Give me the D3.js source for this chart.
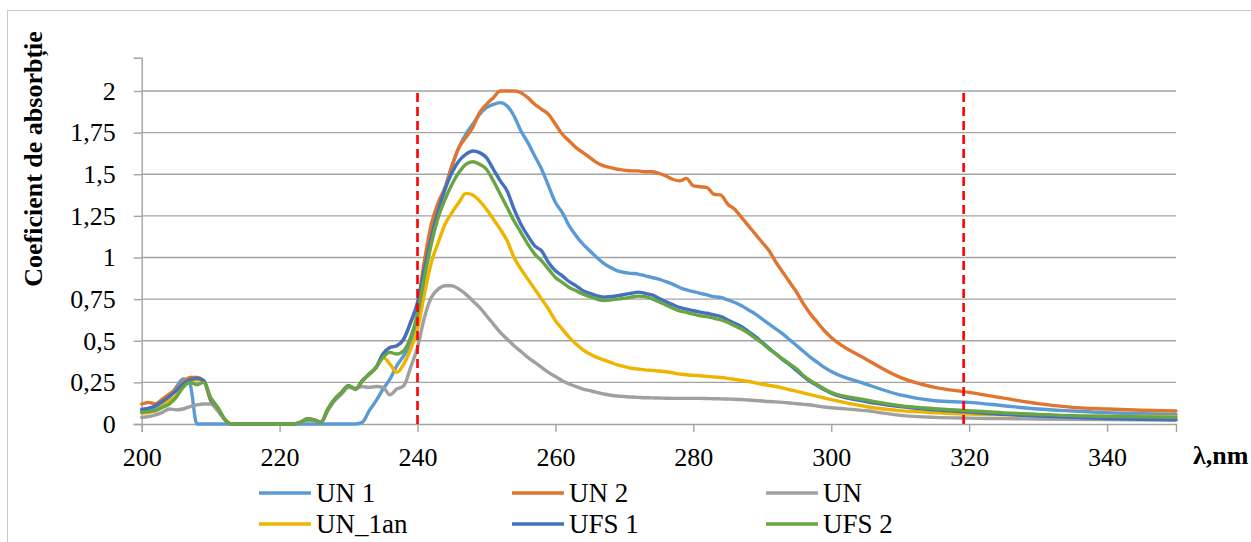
<!DOCTYPE html>
<html>
<head>
<meta charset="utf-8">
<script src="https://cdn.jsdelivr.net/npm/d3@7/dist/d3.min.js"></script>
<style>
  body { margin: 0; background: #fff; }
</style>
</head>
<body>
<script>
// wavelength grid (nm)
const wavelength = [
  200,201,202,203,204,205,206,207,208,209,
  210,211,212,213,214,215,216,217,218,219,
  220,221,222,223,224,225,226,227,228,229,
  230,231,232,233,234,235,236,237,238,239,
  240,241,242,243,244,245,246,247,248,249,
  250,251,252,253,254,255,256,257,258,259,
  260,261,262,263,264,265,266,267,268,269,
  270,271,272,273,274,275,276,277,278,279,
  280,281,282,283,284,285,286,287,288,289,
  290,291,292,293,294,295,296,297,298,299,
  300,305,310,315,320,325,330,335,340,345,350
];

const un1 = [
  0.09,0.09,0.10,0.13,0.16,0.22,0.27,0.24,0,0,
  0,0,0,0,0,0,0,0,0,0,
  0,0,0,0,0,0,0,0,0,0,
  0,0,0.01,0.08,0.14,0.21,0.27,0.35,0.41,0.48,
  0.60,0.90,1.15,1.30,1.42,1.55,1.66,1.74,1.80,1.86,
  1.90,1.92,1.93,1.91,1.85,1.76,1.69,1.61,1.53,1.43,
  1.33,1.27,1.19,1.13,1.08,1.04,1.00,0.965,0.94,0.92,
  0.91,0.905,0.90,0.89,0.88,0.87,0.855,0.84,0.82,0.805,
  0.795,0.785,0.775,0.765,0.76,0.745,0.73,0.71,0.685,0.66,
  0.63,0.60,0.57,0.54,0.505,0.47,0.435,0.40,0.37,0.34,
  0.315,0.24,0.175,0.14,0.13,0.11,0.09,0.078,0.068,0.062,0.058
];

const un2 = [
  0.12,0.13,0.12,0.15,0.18,0.21,0.25,0.28,0.28,0.26,
  0.14,0.09,0.03,0,0,0,0,0,0,0,
  0,0,0,0.01,0.03,0.025,0.01,0.09,0.15,0.19,
  0.23,0.21,0.26,0.30,0.34,0.42,0.46,0.47,0.51,0.61,
  0.72,0.98,1.20,1.33,1.42,1.55,1.66,1.72,1.78,1.87,
  1.92,1.96,2.00,2.00,2.00,1.99,1.96,1.92,1.89,1.86,
  1.80,1.74,1.70,1.66,1.63,1.60,1.57,1.55,1.54,1.53,
  1.525,1.52,1.52,1.515,1.515,1.505,1.49,1.47,1.46,1.475,
  1.43,1.425,1.42,1.38,1.375,1.32,1.29,1.24,1.19,1.14,
  1.09,1.04,0.97,0.91,0.85,0.79,0.72,0.66,0.61,0.56,
  0.52,0.39,0.28,0.22,0.19,0.155,0.122,0.10,0.09,0.083,0.078
];

const un = [
  0.04,0.045,0.055,0.07,0.09,0.085,0.09,0.105,0.115,0.12,
  0.12,0.08,0.03,0,0,0,0,0,0,0,
  0,0,0,0.01,0.02,0.02,0.01,0.08,0.14,0.18,
  0.22,0.215,0.225,0.22,0.225,0.22,0.175,0.21,0.23,0.34,
  0.46,0.64,0.76,0.81,0.83,0.83,0.81,0.78,0.74,0.70,
  0.65,0.60,0.55,0.51,0.47,0.435,0.40,0.37,0.34,0.31,
  0.285,0.26,0.24,0.225,0.21,0.20,0.19,0.18,0.173,0.168,
  0.165,0.162,0.16,0.158,0.157,0.156,0.155,0.154,0.154,0.154,
  0.154,0.154,0.153,0.152,0.151,0.15,0.149,0.147,0.144,0.141,
  0.138,0.135,0.133,0.13,0.126,0.122,0.118,0.114,0.108,0.102,
  0.098,0.08,0.052,0.04,0.035,0.032,0.03,0.028,0.026,0.025,0.024
];

const un1an = [
  0.065,0.07,0.08,0.11,0.14,0.17,0.22,0.255,0.265,0.26,
  0.15,0.10,0.03,0,0,0,0,0,0,0,
  0,0,0,0.01,0.03,0.025,0.01,0.09,0.15,0.19,
  0.23,0.21,0.26,0.30,0.34,0.40,0.36,0.31,0.36,0.45,
  0.57,0.78,0.97,1.09,1.20,1.27,1.33,1.385,1.375,1.34,
  1.29,1.23,1.17,1.10,1.00,0.93,0.87,0.81,0.75,0.69,
  0.62,0.57,0.52,0.48,0.445,0.42,0.40,0.385,0.37,0.355,
  0.345,0.335,0.33,0.325,0.322,0.318,0.314,0.308,0.30,0.296,
  0.292,0.29,0.286,0.282,0.279,0.274,0.268,0.262,0.255,0.247,
  0.239,0.232,0.225,0.216,0.205,0.196,0.186,0.176,0.166,0.156,
  0.146,0.105,0.08,0.068,0.06,0.055,0.05,0.048,0.046,0.045,0.044
];

const ufs1 = [
  0.085,0.095,0.11,0.135,0.165,0.20,0.24,0.265,0.275,0.26,
  0.15,0.10,0.03,0,0,0,0,0,0,0,
  0,0,0,0.01,0.03,0.025,0.01,0.09,0.15,0.19,
  0.23,0.21,0.26,0.30,0.34,0.42,0.46,0.47,0.51,0.61,
  0.73,0.93,1.12,1.28,1.41,1.51,1.58,1.62,1.64,1.63,
  1.60,1.53,1.46,1.40,1.29,1.20,1.13,1.07,1.04,0.97,
  0.92,0.89,0.855,0.83,0.80,0.785,0.77,0.762,0.765,0.77,
  0.778,0.785,0.792,0.785,0.775,0.755,0.735,0.717,0.70,0.69,
  0.68,0.672,0.665,0.655,0.645,0.625,0.605,0.585,0.555,0.525,
  0.49,0.455,0.42,0.385,0.355,0.32,0.285,0.255,0.23,0.205,
  0.185,0.135,0.105,0.085,0.072,0.058,0.048,0.04,0.033,0.028,0.025
];

const ufs2 = [
  0.07,0.075,0.08,0.10,0.12,0.16,0.22,0.25,0.235,0.25,
  0.16,0.10,0.03,0,0,0,0,0,0,0,
  0,0,0,0.01,0.03,0.025,0.01,0.09,0.15,0.19,
  0.23,0.21,0.26,0.30,0.34,0.40,0.43,0.42,0.44,0.52,
  0.66,0.88,1.08,1.24,1.35,1.44,1.51,1.56,1.575,1.56,
  1.53,1.46,1.38,1.30,1.22,1.15,1.08,1.02,0.98,0.93,
  0.88,0.85,0.82,0.80,0.78,0.765,0.75,0.742,0.745,0.75,
  0.755,0.762,0.768,0.765,0.752,0.735,0.715,0.695,0.68,0.67,
  0.66,0.65,0.645,0.635,0.625,0.61,0.59,0.57,0.545,0.515,
  0.485,0.45,0.42,0.39,0.36,0.33,0.29,0.26,0.235,0.21,
  0.19,0.145,0.11,0.092,0.08,0.067,0.058,0.05,0.046,0.043,0.04
];

const seriesNames  = ["UN 1", "UN 2", "UN", "UN_1an", "UFS 1", "UFS 2"];
const seriesValues = [un1, un2, un, un1an, ufs1, ufs2];
const seriesColors = ["#5b9bd5", "#e0752f", "#a0a0a0", "#eeb400", "#4470c0", "#68a643"];

const xTicks = [200, 220, 240, 260, 280, 300, 320, 340];
const yTicks = [0, 0.25, 0.5, 0.75, 1, 1.25, 1.5, 1.75, 2];
const yTickLabels = ["0", "0,25", "0,5", "0,75", "1", "1,25", "1,5", "1,75", "2"];
const markerLines = [240, 319.2];   // red dashed limits

const FONT = '"Liberation Serif", "Times New Roman", serif';

//SIZES
const W = 1251, H = 542;
const plot = { left: 141.7, right: 1176, top: 57.7, bottom: 424 };

const X = d3.scaleLinear().domain([200, 350]).range([plot.left, plot.right]);
const Y = d3.scaleLinear().domain([0, 2.2]).range([plot.bottom, plot.top]);

const svg = d3.select("body").append("svg")
  .attr("width", W).attr("height", H);

// outer chart border
svg.append("rect")
  .attr("x", 7.5).attr("y", 10.5)
  .attr("width", W + 10).attr("height", H + 10)
  .attr("fill", "none").attr("stroke", "#c8c8c8").attr("stroke-width", 1);

// horizontal gridlines
svg.append("g").selectAll("line")
  .data(yTicks.slice(1))
  .enter().append("line")
  .attr("x1", plot.left).attr("x2", plot.right)
  .attr("y1", d => Y(d)).attr("y2", d => Y(d))
  .attr("stroke", "#a3a3a3").attr("stroke-width", 1.4);

// x axis
const xAxis = svg.append("g")
  .attr("transform", `translate(0,${plot.bottom})`)
  .call(d3.axisBottom(X).tickValues(xTicks).tickSize(8).tickFormat(d3.format("d")).tickPadding(16));
xAxis.select(".domain").attr("stroke", "#a3a3a3").attr("stroke-width", 1.4);
xAxis.selectAll(".tick line").attr("stroke", "#a3a3a3").attr("stroke-width", 1.4);
xAxis.selectAll(".tick text")
  .style("font-family", FONT).style("font-size", "26px").attr("fill", "#000");

// y axis
const yAxis = svg.append("g")
  .attr("transform", `translate(${plot.left},0)`)
  .call(d3.axisLeft(Y).tickValues(yTicks).tickSize(8).tickPadding(18)
    .tickFormat((d, i) => yTickLabels[i]));
yAxis.select(".domain").attr("stroke", "#a3a3a3").attr("stroke-width", 1.4);
yAxis.selectAll(".tick line").attr("stroke", "#a3a3a3").attr("stroke-width", 1.4);
yAxis.selectAll(".tick text")
  .style("font-family", FONT).style("font-size", "26px").attr("fill", "#000");

// series
const line = d3.line()
  .x((d, i) => X(wavelength[i]))
  .y(d => Y(d))
  .curve(d3.curveMonotoneX);

svg.append("g").selectAll("path")
  .data(seriesValues)
  .enter().append("path")
  .attr("d", d => line(d))
  .attr("fill", "none")
  .attr("stroke", (d, i) => seriesColors[i])
  .attr("stroke-width", 3.4)
  .attr("stroke-linejoin", "round")
  .attr("stroke-linecap", "round");

// red dashed lines
svg.append("g").selectAll("line")
  .data(markerLines)
  .enter().append("line")
  .attr("x1", d => X(d)).attr("x2", d => X(d))
  .attr("y1", Y(0)).attr("y2", Y(2))
  .attr("stroke", "#ff0000").attr("stroke-width", 2.6)
  .attr("stroke-dasharray", "9,5");

// axis titles
svg.append("text")
  .attr("transform", `translate(42,159) rotate(-90)`)
  .attr("text-anchor", "middle")
  .style("font-family", FONT).style("font-size", "26px").style("font-weight", "bold")
  .text("Coeficient de absorbție");

svg.append("text")
  .attr("x", 1193).attr("y", 464)
  .style("font-family", FONT).style("font-size", "26px").style("font-weight", "bold")
  .text("λ,nm");

// legend
const legendCols = [259, 512, 766];
const legendRows = [493, 524];
const legend = svg.append("g").selectAll("g")
  .data(seriesNames)
  .enter().append("g")
  .attr("transform", (d, i) => `translate(${legendCols[i % 3]},${legendRows[Math.floor(i / 3)]})`);
legend.append("line")
  .attr("x1", 0).attr("x2", 52).attr("y1", 0).attr("y2", 0)
  .attr("stroke", (d, i) => seriesColors[i]).attr("stroke-width", 3.5);
legend.append("text")
  .attr("x", 57).attr("y", 9)
  .style("font-family", FONT).style("font-size", "27px")
  .text(d => d);
</script>
</body>
</html>
